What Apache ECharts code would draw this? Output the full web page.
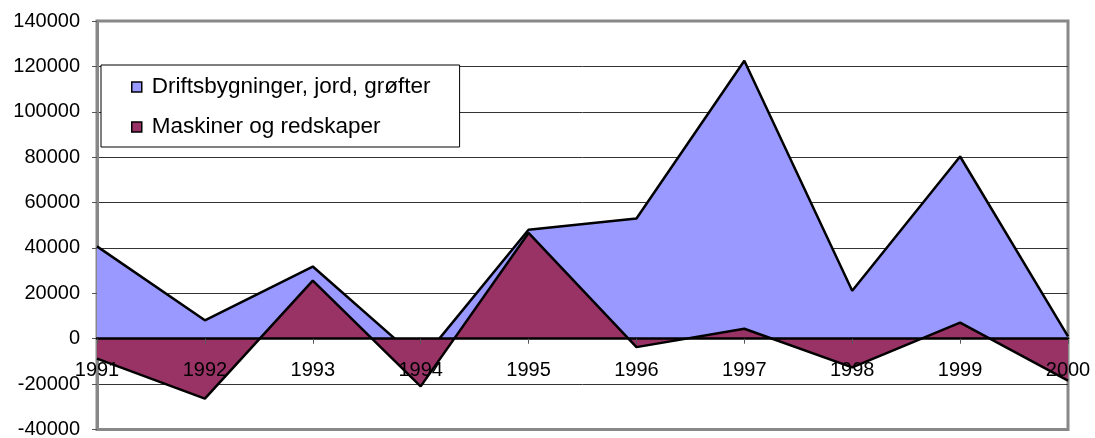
<!DOCTYPE html>
<html>
<head>
<meta charset="utf-8">
<title>Driftsbygninger og maskiner</title>
<script src="https://cdn.jsdelivr.net/npm/echarts@6/dist/echarts.min.js"></script>
<style>
  html, body { margin: 0; padding: 0; background: #fff; }
  #chart { width: 1095px; height: 438px; }
</style>
</head>
<body>
<div id="chart"></div>
<script>
// data
var years = ['1991', '1992', '1993', '1994', '1995', '1996', '1997', '1998', '1999', '2000']
var bygninger = [40700, 8100, 31800, -10000, 48000, 53000, 122500, 21100, 80300, 1000]
var maskiner = [-8800, -26400, 25600, -21000, 46600, -3700, 4400, -12600, 7100, -18500]
var seriesNames = ['Driftsbygninger, jord, grøfter', 'Maskiner og redskaper']
var yMin = -40000
var yMax = 140000

var font = '"Liberation Sans", Arial, sans-serif'

var gridTop = 21
var gridBottom = 8.5
var chartHeight = 438
// x axis sits on the zero line: shift it up from the grid bottom
var zeroOffset = -(chartHeight - gridTop - gridBottom) * (0 - yMin) / (yMax - yMin)

var chart = echarts.init(document.getElementById('chart'))

chart.setOption({
  animation: false,
  textStyle: { fontFamily: font },
  grid: {
    left: 97,
    right: 27,
    top: gridTop,
    bottom: gridBottom,
    outerBoundsMode: 'none',
    containLabel: false,
    show: true,
    borderColor: '#888',
    borderWidth: 3
  },
  legend: {
    orient: 'vertical',
    left: 101,
    top: 65,
    z: 20,
    padding: [10.5, 29, 8.5, 30],
    backgroundColor: '#fff',
    borderColor: '#000',
    borderWidth: 1,
    borderRadius: 0,
    icon: 'rect',
    itemWidth: 10,
    itemHeight: 10,
    itemGap: 17,
    itemStyle: {
      borderColor: '#000',
      borderWidth: 1.5
    },
    textStyle: {
      fontFamily: font,
      fontSize: 22.5,
      lineHeight: 22,
      color: '#000',
      padding: [0, 0, 0, 5]
    },
    selectedMode: false,
    data: seriesNames
  },
  xAxis: {
    type: 'category',
    boundaryGap: false,
    data: years,
    position: 'bottom',
    offset: zeroOffset,
    z: 10,
    axisLine: {
      onZero: false,
      lineStyle: { color: '#000', width: 2.5 }
    },
    axisTick: {
      show: true,
      length: 5,
      lineStyle: { color: '#555' }
    },
    axisLabel: {
      interval: 0,
      margin: 22,
      color: '#000',
      fontSize: 20,
      fontFamily: font
    },
    splitLine: { show: false }
  },
  yAxis: {
    type: 'value',
    min: yMin,
    max: yMax,
    interval: 20000,
    axisLine: {
      show: true,
      lineStyle: { color: '#888', width: 3 }
    },
    axisTick: {
      show: true,
      length: 5,
      lineStyle: { color: '#555' }
    },
    axisLabel: {
      margin: 17,
      color: '#000',
      fontSize: 20,
      fontFamily: font,
      formatter: function (v) { return String(v) } // no thousands separator
    },
    splitLine: {
      show: true,
      showMinLine: false,
      showMaxLine: false,
      lineStyle: { color: '#333', width: 1 }
    }
  },
  series: [
    {
      name: seriesNames[0],
      type: 'line',
      z: 2,
      data: bygninger,
      symbol: 'none',
      itemStyle: { color: '#9999FF' },
      lineStyle: { color: '#000', width: 2.5 },
      areaStyle: { color: '#9999FF', opacity: 1 }
    },
    {
      name: seriesNames[1],
      type: 'line',
      z: 3,
      data: maskiner,
      symbol: 'none',
      itemStyle: { color: '#993366' },
      lineStyle: { color: '#000', width: 2.5 },
      areaStyle: { color: '#993366', opacity: 1 }
    }
  ]
})
</script>
</body>
</html>
